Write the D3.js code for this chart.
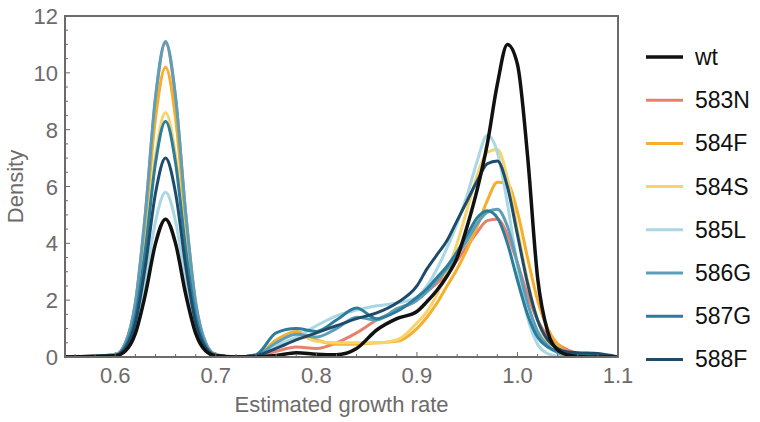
<!DOCTYPE html>
<html lang="en">
  <head>
    <meta charset="UTF-8" />
    <title>Estimated growth rate density</title>
    <script src="https://d3js.org/d3.v7.min.js"></script>
    <style>
      body {
        margin: 0;
        background: #ffffff;
        font-family: "Liberation Sans", Arial, sans-serif;
      }
      .frame {
        fill: none;
        stroke: #6e6a6a;
        stroke-width: 2px;
      }
      .tick-label {
        fill: #6e6a6a;
        font-size: 22px;
      }
      .axis-title {
        fill: #6e6a6a;
        font-size: 22px;
      }
      .legend-label {
        fill: #111;
        font-size: 23px;
      }
      .density {
        fill: none;
        stroke-linejoin: round;
      }
    </style>
  </head>
  <body>
    <script>
      // growth rate grid (x) shared by every series
      var growthRates = [
        0.55, 0.6, 0.61, 0.62, 0.63, 0.64, 0.65, 0.66, 0.67, 0.68, 0.69, 0.7,
        0.72, 0.74, 0.76, 0.78, 0.8, 0.82, 0.84, 0.86, 0.88,
        0.9, 0.91, 0.92, 0.93, 0.94, 0.95, 0.96, 0.97, 0.98, 0.99, 1.0, 1.01,
        1.02, 1.03, 1.04, 1.05, 1.06, 1.08, 1.1,
      ];

      var seriesNames = ["wt", "583N", "584F", "584S", "585L", "586G", "587G", "588F"];
      var seriesColors = ["#111111", "#e8806f", "#f6ae2d", "#f7d36e", "#a9d7e4", "#5b9fb9", "#2b7d9b", "#1f4b6b"];

      // density values, one per growth rate
      var wt = [
        0, 0.04, 0.21, 0.83, 2.22, 3.99, 4.85, 3.99, 2.22, 0.83, 0.21, 0.04,
        0, 0, 0.05, 0.15, 0.1, 0.08, 0.3, 0.95, 1.35,
        1.6, 1.95, 2.35, 2.85, 3.5, 4.6, 5.9, 7.5, 9.6, 11.0, 10.3, 7.1,
        2.8, 0.9, 0.25, 0.07, 0.02, 0, 0,
      ];
      var d583N = [
        0, 0.08, 0.49, 1.9, 5.06, 9.1, 11.05, 9.1, 5.06, 1.9, 0.49, 0.08,
        0, 0.02, 0.2, 0.35, 0.3, 0.5, 0.85, 1.3, 1.65,
        2.0, 2.3, 2.6, 2.95, 3.4, 3.9, 4.4, 4.8, 4.85, 4.3, 3.3, 2.2,
        1.3, 0.75, 0.45, 0.25, 0.12, 0.03, 0,
      ];
      var d584F = [
        0, 0.08, 0.45, 1.75, 4.67, 8.39, 10.2, 8.39, 4.67, 1.75, 0.45, 0.08,
        0, 0.05, 0.6, 0.9, 0.6, 0.45, 0.45, 0.5, 0.55,
        1.0, 1.4, 1.9, 2.5, 3.1, 3.8, 4.6, 5.5, 6.15, 6.1, 5.1, 3.5,
        2.0, 1.0, 0.45, 0.15, 0.05, 0, 0,
      ];
      var d584S = [
        0, 0.07, 0.38, 1.48, 3.94, 7.08, 8.6, 7.08, 3.94, 1.48, 0.38, 0.07,
        0, 0.05, 0.5, 0.8, 0.55, 0.5, 0.5, 0.5, 0.6,
        1.2, 1.6, 2.2, 3.0, 4.0, 5.2, 6.4, 7.2, 7.3, 6.3, 4.5, 2.7,
        1.3, 0.5, 0.2, 0.05, 0.01, 0, 0,
      ];
      var d585L = [
        0, 0.04, 0.26, 1.0, 2.66, 4.77, 5.8, 4.77, 2.66, 1.0, 0.26, 0.04,
        0, 0.05, 0.4, 0.7, 1.1, 1.45, 1.65, 1.8, 1.9,
        2.1, 2.5, 3.1, 3.85, 4.7, 5.7, 6.9, 7.8, 7.2, 5.4, 3.2, 1.4,
        0.45, 0.12, 0.03, 0, 0, 0, 0,
      ];
      var d586G = [
        0, 0.08, 0.49, 1.91, 5.08, 9.14, 11.1, 9.14, 5.08, 1.91, 0.49, 0.08,
        0, 0.05, 0.5, 0.8, 0.7, 1.0, 1.4, 1.3, 1.7,
        2.0, 2.3, 2.7, 3.1, 3.6, 4.1, 4.7, 5.1, 5.2, 4.6, 3.3, 1.9,
        0.9, 0.4, 0.15, 0.05, 0.02, 0, 0,
      ];
      var d587G = [
        0, 0.06, 0.37, 1.43, 3.8, 6.83, 8.3, 6.83, 3.8, 1.43, 0.37, 0.06,
        0, 0.08, 0.85, 1.0, 0.9, 1.3, 1.72, 1.35, 1.6,
        2.1, 2.4, 2.8, 3.2, 3.7, 4.3, 4.9, 5.15, 4.9, 4.0, 2.7, 1.5,
        0.7, 0.35, 0.2, 0.15, 0.12, 0.08, 0,
      ];
      var d588F = [
        0, 0.05, 0.31, 1.2, 3.21, 5.76, 7.0, 5.76, 3.21, 1.2, 0.31, 0.05,
        0, 0.05, 0.3, 0.6, 0.85, 1.1, 1.35, 1.55, 1.9,
        2.5, 3.1, 3.6, 4.1, 4.8, 5.5, 6.2, 6.8, 6.9, 6.0, 4.3, 2.6,
        1.3, 0.6, 0.3, 0.18, 0.15, 0.12, 0,
      ];

      var xTicks = [0.6, 0.7, 0.8, 0.9, 1.0, 1.1];
      var yTicks = [0, 2, 4, 6, 8, 10, 12];

      var seriesValues = [wt, d583N, d584F, d584S, d585L, d586G, d587G, d588F];

      // plot area
      var margin = { top: 16, right: 142, bottom: 65, left: 65 },
        width = 760,
        height = 422,
        plotW = width - margin.left - margin.right,
        plotH = height - margin.top - margin.bottom;

      var svg = d3
        .select("body")
        .append("svg")
        .attr("width", width)
        .attr("height", height);

      var g = svg
        .append("g")
        .attr("transform", "translate(" + margin.left + "," + margin.top + ")");

      var x = d3.scaleLinear().domain([0.55, 1.1]).range([0, plotW]);
      var y = d3.scaleLinear().domain([0, 12]).range([plotH, 0]);

      g.append("clipPath")
        .attr("id", "plot-clip")
        .append("rect")
        .attr("width", plotW)
        .attr("height", plotH + 2)
        .attr("y", -1);

      var line = d3
        .line()
        .x(function (d, i) {
          return x(growthRates[i]);
        })
        .y(function (d) {
          return y(d);
        })
        .curve(d3.curveMonotoneX);

      // legend order, wt drawn last so it sits on top
      var order = d3.range(1, seriesNames.length).concat([0]);
      g.append("g")
        .attr("clip-path", "url(#plot-clip)")
        .selectAll(".density")
        .data(order)
        .enter()
        .append("path")
        .attr("class", "density")
        .attr("stroke", function (i) {
          return seriesColors[i];
        })
        .attr("stroke-width", function (i) {
          return i === 0 ? 3.5 : 3;
        })
        .attr("d", function (i) {
          return line(seriesValues[i]);
        });

      // frame
      g.append("rect")
        .attr("class", "frame")
        .attr("width", plotW)
        .attr("height", plotH);

      // inward ticks, major and minor
      var ticks = g.append("g").attr("stroke", "#6e6a6a").attr("stroke-width", 1);
      d3.range(0.56, 1.1, 0.02).forEach(function (v) {
        var major = xTicks.some(function (t) {
          return Math.abs(t - v) < 1e-6;
        });
        ticks
          .append("line")
          .attr("x1", x(v))
          .attr("x2", x(v))
          .attr("y1", plotH)
          .attr("y2", plotH - (major ? 5 : 3));
      });
      d3.range(0.5, 12, 0.5).forEach(function (v) {
        var major = v % 2 === 0;
        ticks
          .append("line")
          .attr("x1", 0)
          .attr("x2", major ? 5 : 3)
          .attr("y1", y(v))
          .attr("y2", y(v));
      });

      // tick labels
      g.selectAll(".x-label")
        .data(xTicks)
        .enter()
        .append("text")
        .attr("class", "tick-label")
        .attr("text-anchor", "middle")
        .attr("x", function (d) {
          return x(d);
        })
        .attr("y", plotH + 26)
        .text(function (d) {
          return d3.format(".1f")(d);
        });

      g.selectAll(".y-label")
        .data(yTicks)
        .enter()
        .append("text")
        .attr("class", "tick-label")
        .attr("text-anchor", "end")
        .attr("x", -7)
        .attr("y", function (d) {
          return y(d) + 8;
        })
        .text(function (d) {
          return d;
        });

      // axis titles
      g.append("text")
        .attr("class", "axis-title")
        .attr("text-anchor", "middle")
        .attr("x", plotW / 2)
        .attr("y", plotH + 55)
        .text("Estimated growth rate");

      g.append("text")
        .attr("class", "axis-title")
        .attr("text-anchor", "middle")
        .attr("transform", "translate(-42," + plotH / 2 + ") rotate(-90)")
        .text("Density");

      // legend
      var legend = svg
        .append("g")
        .attr("transform", "translate(646,57)")
        .selectAll(".legend-item")
        .data(seriesNames)
        .enter()
        .append("g")
        .attr("transform", function (d, i) {
          return "translate(0," + i * 43.2 + ")";
        });

      legend
        .append("line")
        .attr("x1", 0)
        .attr("x2", 37)
        .attr("stroke", function (d, i) {
          return seriesColors[i];
        })
        .attr("stroke-width", function (d, i) {
          return i === 0 ? 3.5 : 3;
        });

      legend
        .append("text")
        .attr("class", "legend-label")
        .attr("x", 49)
        .attr("y", 8)
        .text(function (d) {
          return d;
        });
    </script>
  </body>
</html>
